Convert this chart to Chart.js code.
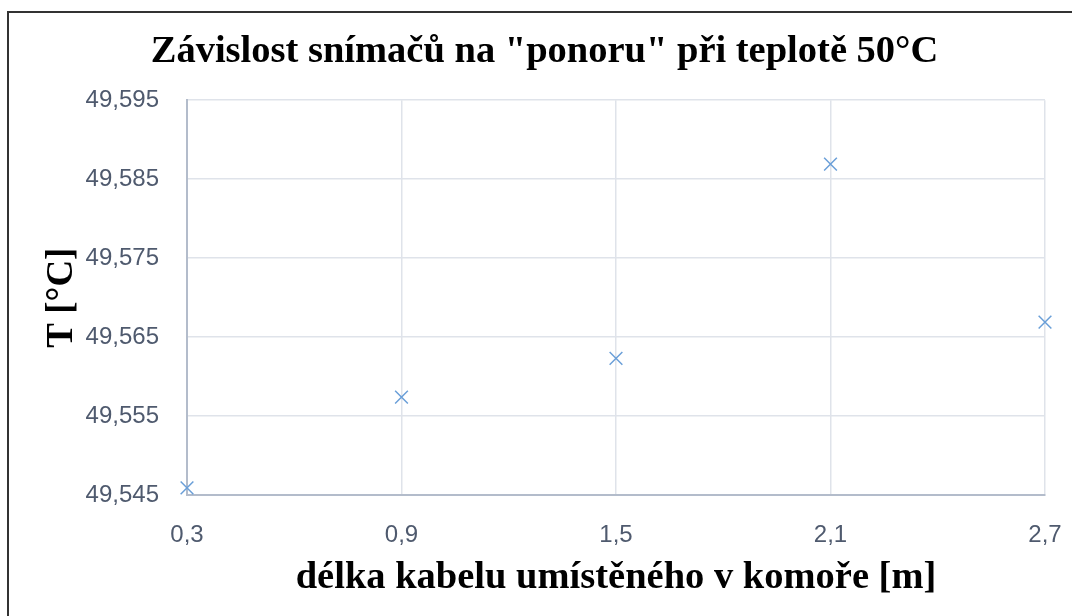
<!DOCTYPE html>
<html>
<head>
<meta charset="utf-8">
<script src="https://cdn.jsdelivr.net/npm/chart.js@4/dist/chart.umd.min.js"></script>
<style>
html,body{margin:0;padding:0;background:#fff;overflow:hidden;width:1072px;height:616px;}
#wrap{position:relative;width:1072px;height:616px;}
#frame{position:absolute;left:7px;top:11px;width:1200px;height:800px;border-left:2px solid #333;border-top:2px solid #333;pointer-events:none;}
canvas{position:absolute;left:0;top:0;}
</style>
</head>
<body>
<div id="wrap">
<canvas id="c" width="1072" height="616"></canvas>
<div id="frame"></div>
</div>
<script>
const chartTitle = 'Závislost snímačů na "ponoru" při teplotě 50°C';
const xAxisTitle = 'délka kabelu umístěného v komoře [m]';
const yAxisTitle = 'T [°C]';
const cableLength = [0.3, 0.9, 1.5, 2.1, 2.7];
const temperature = [49.5459, 49.5574, 49.5623, 49.5869, 49.5669];
const xTicks = [0.3, 0.9, 1.5, 2.1, 2.7];
const yTicks = [49.545, 49.555, 49.565, 49.575, 49.585, 49.595];

const tickColor = '#4f5a6e';
const gridColor = '#dfe3ea';
const axisColor = '#b3bccb';

new Chart(document.getElementById('c'), {
  type: 'scatter',
  data: {
    datasets: [{
      data: cableLength.map((x, i) => ({x: x, y: temperature[i]})),
      pointStyle: 'crossRot',
      pointRadius: 9,
      pointHoverRadius: 9,
      borderColor: '#6a9fd8',
      backgroundColor: '#6a9fd8',
      pointBorderWidth: 1.5,
      clip: false
    }]
  },
  options: {
    responsive: false,
    animation: false,
    layout: {padding: {left: 44, right: 27, top: 0, bottom: 0}},
    plugins: {
      legend: {display: false},
      tooltip: {enabled: false},
      title: {
        display: true,
        text: chartTitle,
        color: '#000',
        font: {family: '"Liberation Serif", "Times New Roman", serif', size: 38.5, weight: 'bold'},
        padding: {top: 29, bottom: 25}
      }
    },
    scales: {
      x: {
        type: 'linear',
        min: 0.3,
        max: 2.7,
        afterBuildTicks: s => { s.ticks = xTicks.map(v => ({value: v})); },
        afterFit: s => { s.height = 121; s.paddingRight = 0; s.paddingLeft = 0; },
        grid: {color: gridColor, lineWidth: 1.5, drawTicks: false},
        border: {color: axisColor, width: 2},
        ticks: {
          color: tickColor,
          padding: 26,
          maxRotation: 0,
          font: {family: '"Liberation Sans", Arial, sans-serif', size: 24},
          callback: v => v.toFixed(1).replace('.', ',')
        },
        title: {
          display: true,
          text: xAxisTitle,
          color: '#000',
          font: {family: '"Liberation Serif", "Times New Roman", serif', size: 38.5, weight: 'bold'},
          padding: {top: 0, bottom: 15}
        }
      },
      y: {
        type: 'linear',
        min: 49.545,
        max: 49.595,
        afterBuildTicks: s => { s.ticks = yTicks.map(v => ({value: v})); },
        afterFit: s => { s.width = 143; },
        grid: {color: gridColor, lineWidth: 1.5, drawTicks: false},
        border: {color: axisColor, width: 2},
        ticks: {
          color: tickColor,
          padding: 28,
          font: {family: '"Liberation Sans", Arial, sans-serif', size: 24},
          callback: v => v.toFixed(3).replace('.', ',')
        },
        title: {
          display: true,
          text: yAxisTitle,
          color: '#000',
          font: {family: '"Liberation Serif", "Times New Roman", serif', size: 37, weight: 'bold'},
          padding: {top: -4, bottom: 0}
        }
      }
    }
  }
});
</script>
</body>
</html>
